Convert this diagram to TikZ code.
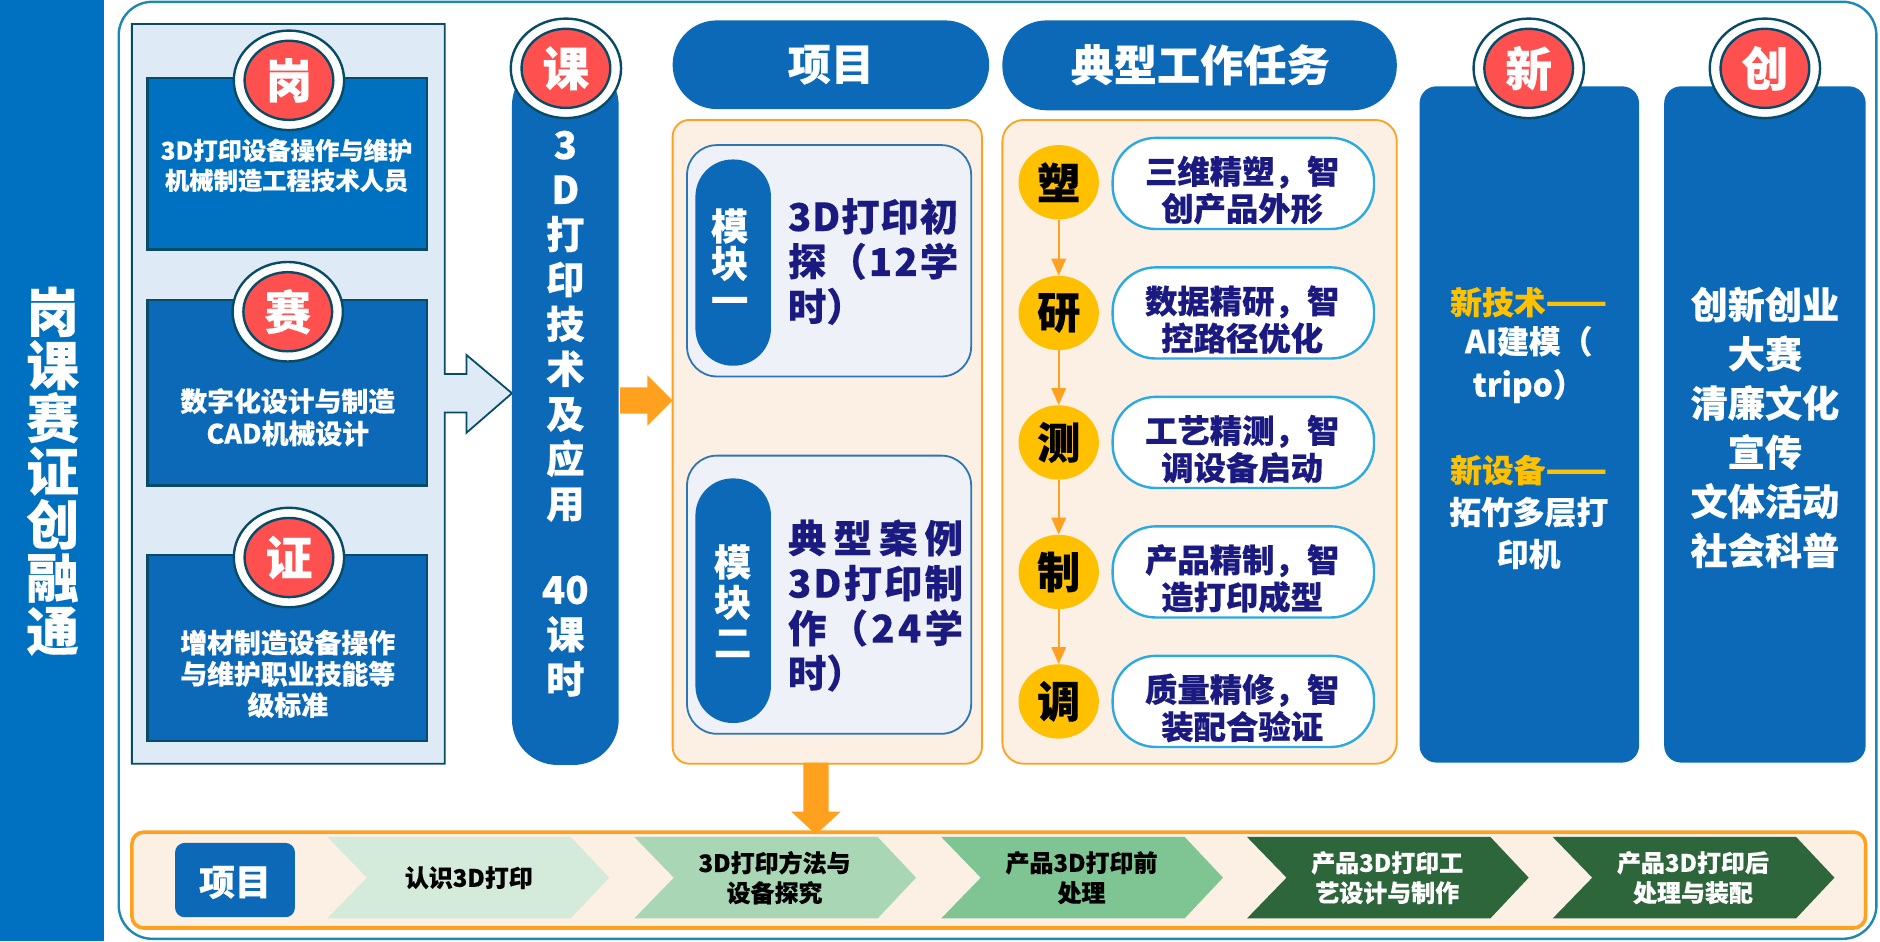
\documentclass[tikz,border=0pt]{standalone}
\usepackage{fontspec}
\setmainfont{Noto Sans CJK SC}[BoldFeatures={FakeBold=0.35}]
\usetikzlibrary{arrows.meta,shapes.geometric}
\definecolor{barblue}{HTML}{0070C0}
\definecolor{midblue}{HTML}{0B69B7}
\definecolor{dark}{HTML}{084B66}
\definecolor{frameblue}{HTML}{1F88B0}
\definecolor{paleblue}{HTML}{DEEBF7}
\definecolor{redc}{HTML}{FF5050}
\definecolor{orangec}{HTML}{FFA01E}
\definecolor{cream}{HTML}{FBF0E3}
\definecolor{modfill}{HTML}{EEF1F7}
\definecolor{modline}{HTML}{2E75B6}
\definecolor{navy}{HTML}{1A1A80}
\definecolor{goldc}{HTML}{FFC000}
\definecolor{cyanl}{HTML}{2AAAE2}
\definecolor{chevA}{HTML}{D4EADA}
\definecolor{chevB}{HTML}{A9D7B5}
\definecolor{chevC}{HTML}{7FC493}
\definecolor{chevD}{HTML}{2E663B}
\tikzset{
  fs/.style 2 args={font=\fontsize{#1}{#2}\selectfont\bfseries,align=center,inner sep=0pt},
  jobbox/.style={draw=dark,line width=2pt,fill=midblue},
  panel/.style={draw=orangec,line width=1.5pt,fill=cream},
  modbox/.style={draw=modline,line width=1.5pt,fill=modfill,rounded corners=25pt},
  modpill/.style={fill=midblue,rounded corners=31pt},
  taskbox/.style={draw=cyanl,line width=2pt,fill=white,rounded corners=36pt},
  taskdot/.style={ellipse,fill=goldc,minimum width=67pt,minimum height=62pt,inner sep=0pt,font=\fontsize{36}{40}\selectfont\bfseries,text=black},
  bigcol/.style={fill=midblue,rounded corners=14pt},
  badgeout/.style={ellipse,draw=dark,line width=2pt,fill=white,minimum width=92pt,minimum height=83pt,inner sep=0pt},
  badgein/.style={ellipse,draw=dark,line width=2pt,fill=redc,minimum width=74pt,minimum height=66pt,inner sep=0pt,text=white,font=\fontsize{39}{42}\selectfont\bfseries},
  flow/.style={draw=orangec,line width=1.5pt,-{Triangle[width=12pt,length=14pt]}},
  chevlabel/.style={fs={20}{25}},
}
\newcommand{\badge}[4]{%
  \node[badgeout] (#1o) at (#2,#3) {};
  \node[badgein] (#1) at (#2,#3) {#4};}
\newcommand{\chev}[2]{%
  \fill[#2] (#1,698) -- ++(203,0) -- ++(32,34) -- ++(-32,34) -- ++(-203,0) -- ++(33,-34) -- cycle;}
\begin{document}
\begin{tikzpicture}[x=1pt,y=-1pt]
\useasboundingbox (0,0) rectangle (1568,785);
% left bar
\fill[barblue] (0,0) rectangle (87,785);
\node[fs={44}{44.3},text=white] (title) at (44,393) {岗\\课\\赛\\证\\创\\融\\通};
% outer frame
\draw[frameblue,line width=2pt,rounded corners=28pt] (99,1.5) rectangle (1565,783);
% light box with arrow
\draw[dark,line width=1.5pt,fill=paleblue] (110,20) -- (371,20) -- (371,312) -- (389,312) -- (389,296) -- (427,328) -- (389,361) -- (389,344) -- (371,344) -- (371,637) -- (110,637) -- cycle;
% job boxes
\draw[jobbox,fill=barblue] (123,65) rectangle (356,208);
\draw[jobbox] (123,250) rectangle (356,405);
\draw[jobbox] (123,463) rectangle (356,618);
\node[fs={20.3}{25},text=white] (t1) at (239,138) {3D打印设备操作与维护\\机械制造工程技术人员};
\node[fs={22.4}{27},text=white] (t2) at (240,348) {数字化设计与制造\\CAD机械设计};
\node[fs={22.4}{26},text=white] (t3) at (240,562) {增材制造设备操作\\与维护职业技能等\\级标准};
\badge{gang}{241}{67}{岗}
\badge{sai}{240}{260}{赛}
\badge{zheng}{241}{465}{证}
% course column
\fill[midblue,rounded corners=38pt] (427,50) rectangle (516,638);
\node[fs={32}{37.4},text=white] (course) at (471.5,345) {3\\D\\打\\印\\技\\术\\及\\应\\用\\[-3pt] \\40\\课\\时};
\badge{ke}{472}{57}{课}
% orange right arrow
\fill[orangec] (517,323) -- (540,323) -- (540,313) -- (561,334) -- (540,355) -- (540,345) -- (517,345) -- cycle;
% header pills
\fill[midblue,rounded corners=37pt] (561,17) rectangle (825,91);
\node[fs={36}{40},text=white] (h1) at (693,54) {项目};
\fill[midblue,rounded corners=37pt] (836,17) rectangle (1165,92);
\node[fs={36}{40},text=white] (h2) at (1001,54) {典型工作任务};
% panels
\draw[panel,rounded corners=14pt] (561,100) rectangle (819,637);
\draw[panel,rounded corners=18pt] (836,100) rectangle (1165,637);
% modules
\draw[modbox] (573,121) rectangle (810,314);
\fill[modpill] (580,133) rectangle (643,305);
\node[fs={31}{31},text=white] (m1) at (608.5,218) {模\\块\\一};
\node[fs={32}{37.5},text=navy,align=left,anchor=west] (m1t) at (657,218) {%
\makebox[142pt][l]{3\hfill D\hfill 打\hfill 印\hfill 初}\\
\makebox[142pt][l]{探\hfill （\hfill 1\hfill 2\hfill 学}\\
时）};
\draw[modbox] (573,380) rectangle (810,612);
\fill[modpill] (580,399) rectangle (643,603);
\node[fs={31}{33.5},text=white] (m2) at (611,501) {模\\块\\二};
\node[fs={32}{37.5},text=navy,align=left,anchor=west] (m2t) at (657,505) {%
\makebox[146pt][l]{典\hfill 型\hfill 案\hfill 例}\\
\makebox[146pt][l]{3\hfill D\hfill 打\hfill 印\hfill 制}\\
\makebox[146pt][l]{作\hfill （\hfill 2\hfill 4\hfill 学}\\
时）};
% tasks
\node[taskdot] (d1) at (883,152) {塑};
\node[taskdot] (d2) at (883,261) {研};
\node[taskdot] (d3) at (883,369) {测};
\node[taskdot] (d4) at (883,477) {制};
\node[taskdot] (d5) at (883,585) {调};
\draw[flow] (d1) -- (d2);
\draw[flow] (d2) -- (d3);
\draw[flow] (d3) -- (d4);
\draw[flow] (d4) -- (d5);
\draw[taskbox] (928,115) rectangle (1146,191);
\draw[taskbox] (928,223) rectangle (1146,299);
\draw[taskbox] (928,331) rectangle (1146,407);
\draw[taskbox] (928,439) rectangle (1146,515);
\draw[taskbox] (928,547) rectangle (1146,623);
\node[fs={27}{31},text=navy] (k1) at (1036,158.5) {三维精塑，智\\创产品外形};
\node[fs={27}{31},text=navy] (k2) at (1036,266.5) {数据精研，智\\控路径优化};
\node[fs={27}{31},text=navy] (k3) at (1036,374.5) {工艺精测，智\\调设备启动};
\node[fs={27}{31},text=navy] (k4) at (1036,482.5) {产品精制，智\\造打印成型};
\node[fs={27}{31},text=navy] (k5) at (1036,590.5) {质量精修，智\\装配合验证};
% right columns
\fill[bigcol] (1184,72) rectangle (1367,636);
\fill[bigcol] (1388,72) rectangle (1556,636);
\badge{xin}{1275}{57}{新}
\badge{chuang}{1472}{57}{创}
\node[fs={26.5}{30},text=goldc] (n1) at (1275,252) {新技术{\fontsize{30}{30}\selectfont ——}};
\node[fs={26.5}{36},text=white] (n2) at (1275,304) {AI建模（\\tripo）};
\node[fs={26.5}{30},text=goldc] (n3) at (1275,392) {新设备{\fontsize{30}{30}\selectfont ——}};
\node[fs={26.5}{35},text=white] (n4) at (1275,444.5) {拓竹多层打\\印机};
\node[fs={31}{41},text=white] (c1) at (1472,356.5) {创新创业\\大赛\\清廉文化\\宣传\\文体活动\\社会科普};
% bottom strip
\draw[draw=orangec,line width=3pt,fill=cream,rounded corners=10pt] (110,694) rectangle (1556,774);
\fill[midblue,rounded corners=8pt] (146,703) rectangle (246,765);
\node[fs={30}{34},text=white] (p0) at (196,736) {项目};
\chev{273}{chevA}
\chev{529}{chevB}
\chev{785}{chevC}
\chev{1040}{chevD}
\chev{1295}{chevD}
\node[chevlabel,text=black] (p1) at (391,732) {认识3D打印};
\node[chevlabel,text=black] (p2) at (646,732) {3D打印方法与\\设备探究};
\node[chevlabel,text=black] (p3) at (902,732) {产品3D打印前\\处理};
\node[chevlabel,text=white] (p4) at (1157,732) {产品3D打印工\\艺设计与制作};
\node[chevlabel,text=white] (p5) at (1412,732) {产品3D打印后\\处理与装配};
% orange down arrow
\fill[orangec] (670,636) -- (691,636) -- (691,677) -- (701,677) -- (680.5,696) -- (660,677) -- (670,677) -- cycle;
\end{tikzpicture}
\end{document}
